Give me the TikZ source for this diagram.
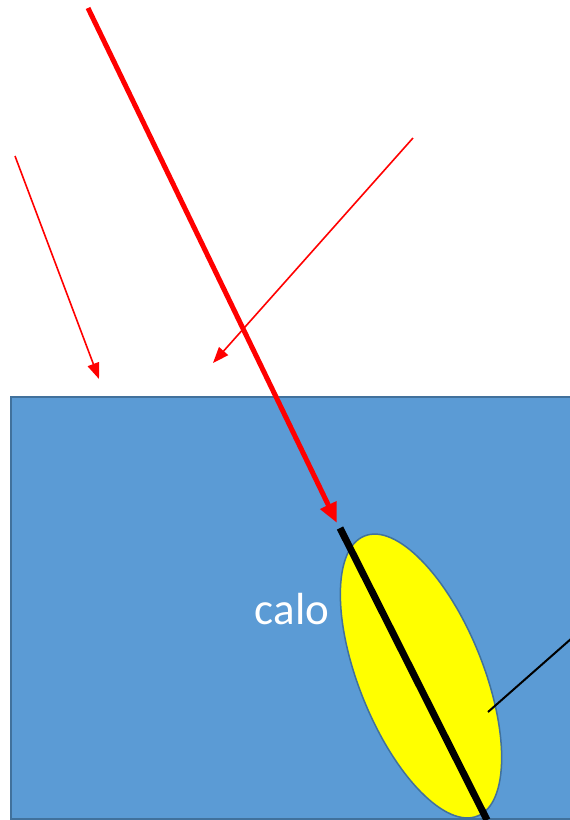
\documentclass[tikz,border=0pt]{standalone}
\usepackage{fontspec}
\setmainfont{Carlito}
\usetikzlibrary{arrows.meta,shapes.geometric}
\definecolor{boxblue}{HTML}{5B9BD5}
\definecolor{edgeblue}{HTML}{41719C}
\definecolor{ray}{HTML}{FF0000}
\definecolor{blob}{HTML}{FFFF00}
\begin{document}
\begin{tikzpicture}[x=1pt,y=-1pt,
  bigray/.style={draw=ray,line width=5pt,-{Triangle[length=20pt,width=17pt]}},
  thinray/.style={draw=ray,line width=1.6pt,-{Triangle[length=16pt,width=12pt]}},
  track/.style={draw=black,line width=7pt},
  pointer/.style={draw=black,line width=2pt}]
\useasboundingbox (0,0) rectangle (570,820);
\clip (0,0) rectangle (570,820);
\node[draw=edgeblue,line width=2pt,fill=boxblue,rectangle,inner sep=0,
  minimum width=580,minimum height=422,anchor=north west] (calo) at (10,396) {};
\node[text=white,anchor=base,inner sep=0,font=\fontsize{45}{54}\selectfont] (lab) at (292,624) {calo};
\node[ellipse,draw=edgeblue,line width=1.5pt,fill=blob,inner sep=0,
  minimum width=302,minimum height=124,rotate=-68] (el) at (421,676) {};
\coordinate (t1) at (340,528);
\coordinate (t2) at (487,820);
\draw[track] (t1) -- (t2);
\coordinate (a0) at (88,8);
\coordinate (a1) at (337,523);
\draw[bigray] (a0) -- (a1);
\coordinate (b0) at (15,156);
\coordinate (b1) at (99,379);
\draw[thinray] (b0) -- (b1);
\coordinate (c0) at (413,138);
\coordinate (c1) at (213,363);
\draw[thinray] (c0) -- (c1);
\coordinate (p0) at (488,712);
\coordinate (p1) at (572,638);
\draw[pointer] (p0) -- (p1);
\end{tikzpicture}
\end{document}
